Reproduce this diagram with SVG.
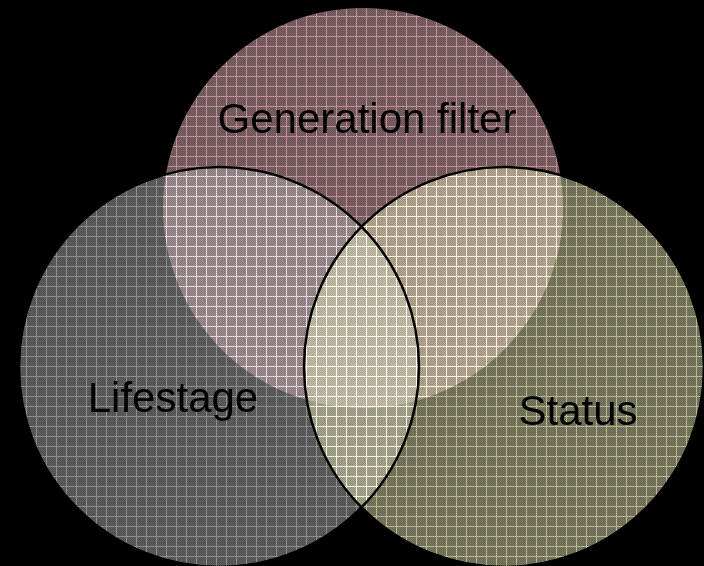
<svg xmlns="http://www.w3.org/2000/svg" width="704" height="566" viewBox="0 0 704 566">
  <style>
    .set { opacity: 0.5; }
    .outline { fill: none; stroke: #000; stroke-width: 2.5; }
    .label { font-family: "Liberation Sans", Arial, sans-serif; font-size: 42px; fill: #000; text-anchor: middle; }
    .grid { mix-blend-mode: color-dodge; }
  </style>
  <defs>
    <!-- fine checker dither inside each cell -->
    <pattern id="dither" patternUnits="userSpaceOnUse" width="2" height="2">
      <rect x="0" y="0" width="1" height="1" fill="#000" fill-opacity="0.14"/>
      <rect x="1" y="1" width="1" height="1" fill="#000" fill-opacity="0.14"/>
    </pattern>
    <!-- 10px lattice of light lines, brightened by dodging the colour below -->
    <pattern id="lattice" patternUnits="userSpaceOnUse" x="6" y="6" width="10" height="10">
      <path d="M0 0.5H10M0.5 0V10" stroke="#626262" stroke-width="1"/>
    </pattern>
    <clipPath id="union">
      <circle cx="363" cy="208" r="200"/>
      <circle cx="219" cy="367" r="200"/>
      <circle cx="504" cy="367" r="200"/>
    </clipPath>
  </defs>

  <rect width="704" height="566" fill="#000"/>

  <g id="generation-filter">
    <circle class="set" cx="363" cy="208" r="200" fill="#fac2ca"/>
  </g>
  <g id="lifestage">
    <circle class="set" cx="219" cy="367" r="200" fill="#bcbcbc"/>
  </g>
  <g id="status">
    <circle class="set" cx="504" cy="367" r="200" fill="#f2f2c2"/>
  </g>

  <!-- surface texture over the filled sets -->
  <rect width="704" height="566" fill="url(#dither)" clip-path="url(#union)"/>
  <rect class="grid" width="704" height="566" fill="url(#lattice)" clip-path="url(#union)"/>

  <g id="connectors">
    <circle class="outline" cx="219" cy="367" r="200"/>
    <circle class="outline" cx="504" cy="367" r="200"/>
  </g>

  <g id="labels">
    <text class="label" x="367" y="133">Generation filter</text>
    <text class="label" x="173" y="412">Lifestage</text>
    <text class="label" x="578" y="425">Status</text>
  </g>
</svg>
